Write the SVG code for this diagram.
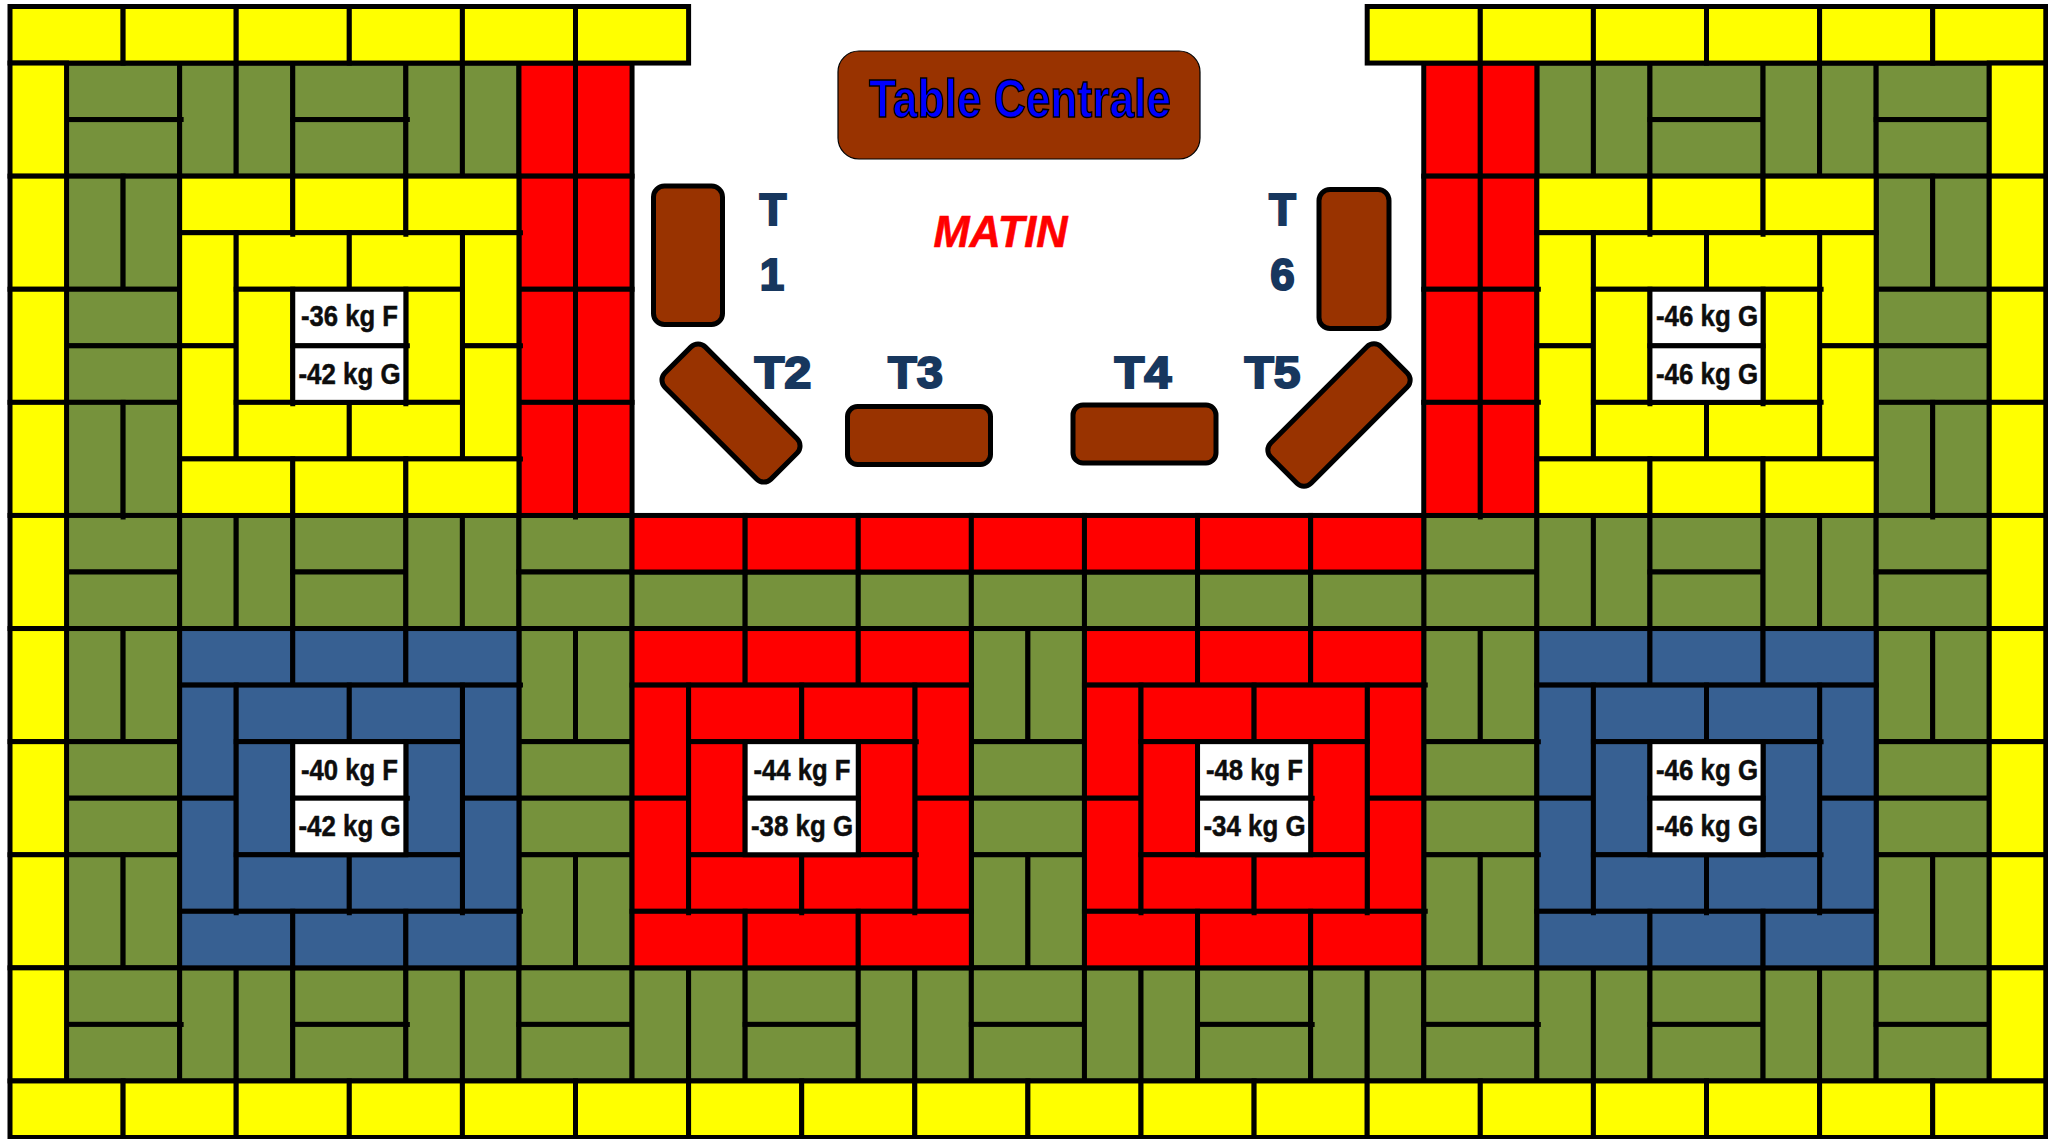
<svg xmlns="http://www.w3.org/2000/svg" xmlns:xlink="http://www.w3.org/1999/xlink" width="2048" height="1139" viewBox="0 0 2048 1139">
<style>
.t{stroke:#000;stroke-width:5;stroke-linejoin:miter}
.y{fill:#FFFF00}.o{fill:#76923C}.r{fill:#FF0000}.b{fill:#376092}
.w{fill:#FFFFFF;stroke:#000;stroke-width:5}
.stub{fill:none;stroke:#000;stroke-width:5}
.tb{fill:#993300;stroke:#000;stroke-width:5}
.lab{font-family:"Liberation Sans",Arial,sans-serif;font-weight:700;font-size:29px;fill:#0D0D0D;stroke:#0D0D0D;stroke-width:.5px;text-anchor:middle}
.nm{font-family:"Liberation Sans",Arial,sans-serif;font-weight:700;font-size:44px;fill:#17375E;stroke:#17375E;stroke-width:2px;text-anchor:middle}
</style>
<defs>
<rect id="h" width="113.1" height="56.55"/>
<rect id="v" width="56.55" height="113.1"/>
<g id="hp"><use href="#h"/><use href="#h" y="56.55"/></g>
<g id="vp"><use href="#v"/><use href="#v" x="56.55"/></g>
<g id="ring">
<use href="#h"/><use href="#h" x="113.1"/><use href="#h" x="226.2"/>
<use href="#v" y="56.55"/><use href="#v" y="169.65"/>
<use href="#v" x="282.75" y="56.55"/><use href="#v" x="282.75" y="169.65"/>
<use href="#h" x="56.55" y="56.55"/><use href="#h" x="169.65" y="56.55"/>
<use href="#v" x="56.55" y="113.1"/><use href="#v" x="226.2" y="113.1"/>
<use href="#h" x="56.55" y="226.2"/><use href="#h" x="169.65" y="226.2"/>
<use href="#h" y="282.75"/><use href="#h" x="113.1" y="282.75"/><use href="#h" x="226.2" y="282.75"/>
<use href="#h" class="w" x="113.1" y="113.1"/><use href="#h" class="w" x="113.1" y="169.65"/>
</g>
</defs>
<rect width="2048" height="1139" fill="#FFFFFF"/>
<g id="olive" class="t o">
<use href="#hp" x="66.55" y="63.05"/><use href="#vp" x="179.65" y="63.05"/><use href="#hp" x="292.75" y="63.05"/><use href="#vp" x="405.85" y="63.05"/>
<use href="#vp" x="1536.85" y="63.05"/><use href="#hp" x="1649.95" y="63.05"/><use href="#vp" x="1763.05" y="63.05"/><use href="#hp" x="1876.15" y="63.05"/>
<use href="#vp" x="66.55" y="176.15"/><use href="#hp" x="66.55" y="289.25"/><use href="#vp" x="66.55" y="402.35"/>
<use href="#vp" x="1876.15" y="176.15"/><use href="#hp" x="1876.15" y="289.25"/><use href="#vp" x="1876.15" y="402.35"/>
<use href="#hp" x="66.55" y="515.45"/><use href="#vp" x="179.65" y="515.45"/><use href="#hp" x="292.75" y="515.45"/><use href="#vp" x="405.85" y="515.45"/><use href="#hp" x="518.95" y="515.45"/>
<use href="#hp" x="1423.75" y="515.45"/><use href="#vp" x="1536.85" y="515.45"/><use href="#hp" x="1649.95" y="515.45"/><use href="#vp" x="1763.05" y="515.45"/><use href="#hp" x="1876.15" y="515.45"/>
<use href="#h" x="632.05" y="572"/><use href="#h" x="745.15" y="572"/><use href="#h" x="858.25" y="572"/><use href="#h" x="971.35" y="572"/><use href="#h" x="1084.45" y="572"/><use href="#h" x="1197.55" y="572"/><use href="#h" x="1310.65" y="572"/>
<use href="#vp" x="66.55" y="628.55"/><use href="#hp" x="66.55" y="741.65"/><use href="#vp" x="66.55" y="854.75"/>
<use href="#vp" x="518.95" y="628.55"/><use href="#hp" x="518.95" y="741.65"/><use href="#vp" x="518.95" y="854.75"/>
<use href="#vp" x="971.35" y="628.55"/><use href="#hp" x="971.35" y="741.65"/><use href="#vp" x="971.35" y="854.75"/>
<use href="#vp" x="1423.75" y="628.55"/><use href="#hp" x="1423.75" y="741.65"/><use href="#vp" x="1423.75" y="854.75"/>
<use href="#vp" x="1876.15" y="628.55"/><use href="#hp" x="1876.15" y="741.65"/><use href="#vp" x="1876.15" y="854.75"/>
<use href="#hp" x="66.55" y="967.85"/><use href="#vp" x="179.65" y="967.85"/><use href="#hp" x="292.75" y="967.85"/><use href="#vp" x="405.85" y="967.85"/><use href="#hp" x="518.95" y="967.85"/><use href="#vp" x="632.05" y="967.85"/><use href="#hp" x="745.15" y="967.85"/><use href="#vp" x="858.25" y="967.85"/><use href="#hp" x="971.35" y="967.85"/><use href="#vp" x="1084.45" y="967.85"/><use href="#hp" x="1197.55" y="967.85"/><use href="#vp" x="1310.65" y="967.85"/><use href="#hp" x="1423.75" y="967.85"/><use href="#vp" x="1536.85" y="967.85"/><use href="#hp" x="1649.95" y="967.85"/><use href="#vp" x="1763.05" y="967.85"/><use href="#hp" x="1876.15" y="967.85"/>
</g>
<g id="red-floor" class="t r">
<use href="#vp" x="518.95" y="63.05"/><use href="#vp" x="518.95" y="176.15"/><use href="#vp" x="518.95" y="289.25"/><use href="#vp" x="518.95" y="402.35"/>
<use href="#vp" x="1423.75" y="63.05"/><use href="#vp" x="1423.75" y="176.15"/><use href="#vp" x="1423.75" y="289.25"/><use href="#vp" x="1423.75" y="402.35"/>
<use href="#h" x="632.05" y="515.45"/><use href="#h" x="745.15" y="515.45"/><use href="#h" x="858.25" y="515.45"/><use href="#h" x="971.35" y="515.45"/><use href="#h" x="1084.45" y="515.45"/><use href="#h" x="1197.55" y="515.45"/><use href="#h" x="1310.65" y="515.45"/>
</g>
<g id="yellow-border" class="t y">
<use href="#h" x="10" y="6.5"/><use href="#h" x="123.1" y="6.5"/><use href="#h" x="236.2" y="6.5"/><use href="#h" x="349.3" y="6.5"/><use href="#h" x="462.4" y="6.5"/><use href="#h" x="575.5" y="6.5"/>
<use href="#h" x="1367.2" y="6.5"/><use href="#h" x="1480.3" y="6.5"/><use href="#h" x="1593.4" y="6.5"/><use href="#h" x="1706.5" y="6.5"/><use href="#h" x="1819.6" y="6.5"/><use href="#h" x="1932.7" y="6.5"/>
<use href="#v" x="10" y="63.05"/><use href="#v" x="10" y="176.15"/><use href="#v" x="10" y="289.25"/><use href="#v" x="10" y="402.35"/><use href="#v" x="10" y="515.45"/><use href="#v" x="10" y="628.55"/><use href="#v" x="10" y="741.65"/><use href="#v" x="10" y="854.75"/><use href="#v" x="10" y="967.85"/>
<use href="#v" x="1989.25" y="63.05"/><use href="#v" x="1989.25" y="176.15"/><use href="#v" x="1989.25" y="289.25"/><use href="#v" x="1989.25" y="402.35"/><use href="#v" x="1989.25" y="515.45"/><use href="#v" x="1989.25" y="628.55"/><use href="#v" x="1989.25" y="741.65"/><use href="#v" x="1989.25" y="854.75"/><use href="#v" x="1989.25" y="967.85"/>
<use href="#h" x="10" y="1080.95"/><use href="#h" x="123.1" y="1080.95"/><use href="#h" x="236.2" y="1080.95"/><use href="#h" x="349.3" y="1080.95"/><use href="#h" x="462.4" y="1080.95"/><use href="#h" x="575.5" y="1080.95"/><use href="#h" x="688.6" y="1080.95"/><use href="#h" x="801.7" y="1080.95"/><use href="#h" x="914.8" y="1080.95"/><use href="#h" x="1027.9" y="1080.95"/><use href="#h" x="1141" y="1080.95"/><use href="#h" x="1254.1" y="1080.95"/><use href="#h" x="1367.2" y="1080.95"/><use href="#h" x="1480.3" y="1080.95"/><use href="#h" x="1593.4" y="1080.95"/><use href="#h" x="1706.5" y="1080.95"/><use href="#h" x="1819.6" y="1080.95"/><use href="#h" x="1932.7" y="1080.95"/>
</g>
<g id="ring-top-left" class="t y"><use href="#ring" x="179.65" y="176.15"/></g>
<g id="ring-top-right" class="t y"><use href="#ring" x="1536.85" y="176.15"/></g>
<g id="ring-blue-left" class="t b"><use href="#ring" x="179.65" y="628.55"/></g>
<g id="ring-red-left" class="t r"><use href="#ring" x="632.05" y="628.55"/></g>
<g id="ring-red-right" class="t r"><use href="#ring" x="1084.45" y="628.55"/></g>
<g id="ring-blue-right" class="t b"><use href="#ring" x="1536.85" y="628.55"/></g>
<path id="joints" class="stub" d="M179.65 119.6h4M405.85 119.6h4M518.95 232.7h4M405.85 345.8h4M518.95 345.8h4M518.95 458.9h4M1536.85 289.25h4M1819.6 289.25h4M1536.85 402.35h4M1819.6 402.35h4M518.95 685.1h4M1423.75 685.1h4M518.95 911.3h4M1423.75 911.3h4M405.85 798.2h4M1310.65 798.2h4M914.8 741.65h4M1536.85 741.65h4M1819.6 741.65h4M914.8 854.75h4M1536.85 854.75h4M1819.6 854.75h4M179.65 1024.4h4M405.85 1024.4h4M1310.65 1024.4h4M1536.85 1024.4h4M292.75 232.7v4M405.85 232.7v4M1649.95 232.7v4M1763.05 232.7v4M292.75 402.35v4M405.85 402.35v4M1649.95 402.35v4M1763.05 402.35v4M123.1 515.45v4M575.5 515.45v4M1480.3 515.45v4M1932.7 515.45v4M236.2 911.3v4M349.3 911.3v4M462.4 911.3v4M688.6 911.3v4M801.7 911.3v4M914.8 911.3v4M1141 911.3v4M1254.1 911.3v4M1367.2 911.3v4M1593.4 911.3v4M1706.5 911.3v4M1819.6 911.3v4"/>
<g id="weights">
<text class="lab" x="349.5" y="326" textLength="97" lengthAdjust="spacingAndGlyphs">-36 kg F</text>
<text class="lab" x="349.5" y="383.5" textLength="102" lengthAdjust="spacingAndGlyphs">-42 kg G</text>
<text class="lab" x="1707" y="326" textLength="102" lengthAdjust="spacingAndGlyphs">-46 kg G</text>
<text class="lab" x="1707" y="383.5" textLength="102" lengthAdjust="spacingAndGlyphs">-46 kg G</text>
<text class="lab" x="349.5" y="780" textLength="97" lengthAdjust="spacingAndGlyphs">-40 kg F</text>
<text class="lab" x="349.5" y="836" textLength="102" lengthAdjust="spacingAndGlyphs">-42 kg G</text>
<text class="lab" x="802" y="780" textLength="97" lengthAdjust="spacingAndGlyphs">-44 kg F</text>
<text class="lab" x="802" y="836" textLength="102" lengthAdjust="spacingAndGlyphs">-38 kg G</text>
<text class="lab" x="1254.5" y="780" textLength="97" lengthAdjust="spacingAndGlyphs">-48 kg F</text>
<text class="lab" x="1254.5" y="836" textLength="102" lengthAdjust="spacingAndGlyphs">-34 kg G</text>
<text class="lab" x="1707" y="780" textLength="102" lengthAdjust="spacingAndGlyphs">-46 kg G</text>
<text class="lab" x="1707" y="836" textLength="102" lengthAdjust="spacingAndGlyphs">-46 kg G</text>
</g>
<g id="table-centrale">
<rect x="838" y="51" width="362" height="108" rx="21" fill="#993300" stroke="#000" stroke-width="1.2"/>
<text x="1020" y="117" font-family="'Liberation Sans',Arial,sans-serif" font-weight="700" font-size="54" fill="#0000FF" stroke="#000" stroke-width="1.5" text-anchor="middle" textLength="302" lengthAdjust="spacingAndGlyphs">Table Centrale</text>
</g>
<g id="table-t1"><rect class="tb" x="653.5" y="186" width="69" height="138.5" rx="11"/></g>
<g id="table-t6"><rect class="tb" x="1319" y="189.5" width="70" height="139" rx="11"/></g>
<g id="table-t2"><rect class="tb" x="656" y="384.5" width="150" height="57" rx="10" transform="rotate(45 731 413)"/></g>
<g id="table-t3"><rect class="tb" x="847.5" y="406.5" width="143" height="58" rx="10"/></g>
<g id="table-t4"><rect class="tb" x="1073" y="405" width="143" height="58" rx="10"/></g>
<g id="table-t5"><rect class="tb" x="1261" y="386.5" width="156" height="57" rx="10" transform="rotate(-45 1339 415)"/></g>
<g id="table-labels">
<text class="nm" x="773" y="225">T</text>
<text class="nm" x="772" y="290">1</text>
<text class="nm" x="1282.5" y="225">T</text>
<text class="nm" x="1282.5" y="290">6</text>
<text class="nm" x="783" y="388" textLength="57" lengthAdjust="spacingAndGlyphs">T2</text>
<text class="nm" x="915.5" y="388" textLength="55" lengthAdjust="spacingAndGlyphs">T3</text>
<text class="nm" x="1143" y="388" textLength="57" lengthAdjust="spacingAndGlyphs">T4</text>
<text class="nm" x="1272.5" y="388" textLength="56" lengthAdjust="spacingAndGlyphs">T5</text>
</g>
<text id="matin" x="1000.5" y="247" font-family="'Liberation Sans',Arial,sans-serif" font-weight="700" font-style="italic" font-size="44" fill="#FF0000" stroke="#FF0000" stroke-width=".6" text-anchor="middle" textLength="134" lengthAdjust="spacingAndGlyphs">MATIN</text>
</svg>
